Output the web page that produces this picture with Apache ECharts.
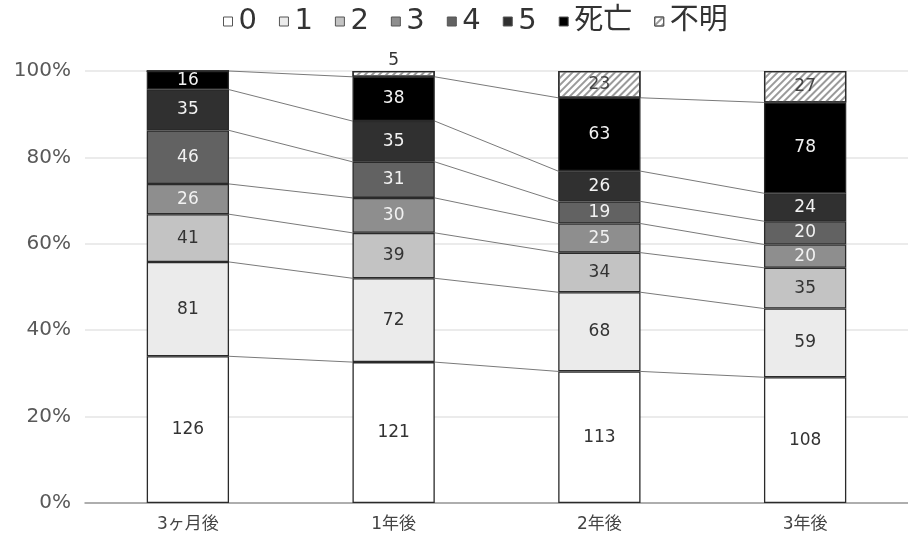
<!DOCTYPE html>
<html><head><meta charset="utf-8">
<script src="https://cdn.jsdelivr.net/npm/echarts@6/dist/echarts.min.js"></script>
<style>html,body{margin:0;padding:0;background:#fff}#c{width:908px;height:534px}</style>
</head><body><div id="c"></div>
<script>
const categories = ['3ヶ月後', '1年後', '2年後', '3年後'];
const seriesNames = ['0', '1', '2', '3', '4', '5', '死亡', '不明'];
const s0 = [126, 121, 113, 108];
const s1 = [81, 72, 68, 59];
const s2 = [41, 39, 34, 35];
const s3 = [26, 30, 25, 20];
const s4 = [46, 31, 19, 20];
const s5 = [35, 35, 26, 24];
const sDeath = [16, 38, 63, 78];
const sUnknown = [0, 5, 23, 27];
const yTicks = [0, 20, 40, 60, 80, 100];

const counts = [s0, s1, s2, s3, s4, s5, sDeath, sUnknown];
const totals = categories.map((_, i) => counts.reduce((a, s) => a + s[i], 0));
const pct = counts.map(s => s.map((v, i) => v / totals[i] * 100));

const fills = ['#ffffff', '#ebebeb', '#c3c3c3', '#8e8e8e', '#626262', '#303030', '#000000', '#ffffff'];
const labelColors = ['#333', '#333', '#333', '#f2f2f2', '#f2f2f2', '#f2f2f2', '#f2f2f2', '#444'];
const FONT = "'DejaVu Sans','Noto Sans CJK JP',sans-serif";

// cumulative boundaries (tops of series 0..死亡)
const cum = categories.map((_, i) => {
  let c = 0; const out = [];
  for (let k = 0; k < 7; k++) { c += pct[k][i]; out.push(c); }
  return out;
});
const connData = [];
for (let i = 0; i < categories.length - 1; i++) {
  for (let k = 0; k < 7; k++) connData.push([i, cum[i][k], cum[i + 1][k]]);
}

const barSeries = seriesNames.map((name, s) => ({
  name, type: 'bar', stack: 'total', barWidth: '40%',
  data: pct[s].map((v, i) => {
    const item = { value: v };
    if (s === 7 && counts[s][i] > 0 && counts[s][i] < 10) {
      item.label = { position: 'top', distance: 2, color: '#333' };
    }
    return item;
  }),
  itemStyle: Object.assign({ color: fills[s], borderColor: '#2a2a2a', borderWidth: 1.3 },
    s === 7 ? { decal: { symbol: 'rect', symbolSize: 1, dashArrayX: [1, 0], dashArrayY: [2, 3], rotation: -Math.PI / 4, color: '#9a9a9a' } } : {}),
  label: {
    show: true, position: 'inside', fontFamily: FONT, fontSize: 17, color: labelColors[s],
    formatter: p => counts[s][p.dataIndex] > 0 ? String(counts[s][p.dataIndex]) : ''
  },
  emphasis: { disabled: true },
  z: 3
}));

const connSeries = {
  type: 'custom', name: 'conn', silent: true, z: 2,
  data: connData,
  renderItem: (params, api) => {
    const i = api.value(0);
    const bw = api.size([1, 0])[0] * 0.4;
    const p1 = api.coord([i, api.value(1)]);
    const p2 = api.coord([i + 1, api.value(2)]);
    return {
      type: 'line',
      shape: { x1: p1[0] + bw / 2, y1: p1[1], x2: p2[0] - bw / 2, y2: p2[1] },
      style: { stroke: '#7a7a7a', lineWidth: 1 }
    };
  }
};

const chart = echarts.init(document.getElementById('c'), null, { renderer: 'canvas' });
chart.setOption({
  animation: false,
  backgroundColor: '#fff',
  legend: {
    data: seriesNames, top: 2, left: 218,
    itemWidth: 9, itemHeight: 9, itemGap: 22,
    icon: 'rect',
    textStyle: { fontFamily: FONT, fontSize: 29, color: '#333', padding: [0, 0, 0, 1] },
    itemStyle: { borderColor: '#555', borderWidth: 1 }
  },
  grid: { left: 85, top: 71, height: 432, width: 836 },
  xAxis: {
    type: 'category', data: categories,
    axisTick: { show: false },
    axisLine: { lineStyle: { color: '#9a9a9a', width: 1.5 } },
    axisLabel: { fontFamily: FONT, fontSize: 17, color: '#444', margin: 13 }
  },
  yAxis: {
    type: 'value', min: 0, max: 100, interval: 20,
    axisLabel: { fontFamily: FONT, fontSize: 20, color: '#595959', margin: 14, formatter: v => yTicks.includes(v) ? v + '%' : '' },
    splitLine: { lineStyle: { color: '#e4e4e4', width: 1.5 } },
    axisLine: { show: false }, axisTick: { show: false }
  },
  series: barSeries.concat([connSeries])
});
</script></body></html>
